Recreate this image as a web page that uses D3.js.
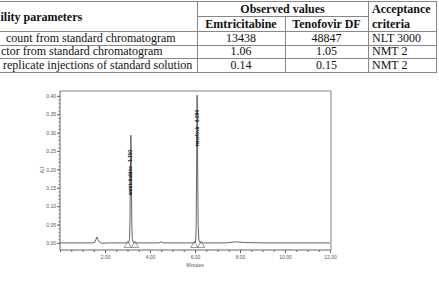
<!DOCTYPE html>
<html>
<head>
<meta charset="utf-8">
<script src="https://cdn.jsdelivr.net/npm/d3@7"></script>
<style>
  html, body { margin: 0; padding: 0; background: #fff; }
  svg { display: block; }
</style>
</head>
<body>
<div id="chart"></div>
<script>
// table data (the left column is cropped in the source picture)
const paramHeader = 'ility parameters';
const groupHeader = 'Observed values';
const drugs = ['Emtricitabine', 'Tenofovir DF'];
const criteriaHeader = ['Acceptance', 'criteria'];
const rowLabels = [
  'count from standard chromatogram',
  'ctor from standard chromatogram',
  'replicate injections of standard solution'
];
const rowLabelX = [6, 1, 3];
const emtValues = ['13438', '1.06', '0.14'];
const tdfValues = ['48847', '1.05', '0.15'];
const criteria = ['NLT 3000', 'NMT 2', 'NMT 2'];

// chromatogram trace (minutes, AU)
const traceTime = [0, 1.45, 1.55, 1.60, 1.64, 1.68, 1.74, 1.82, 1.90, 2.10,
  3.00, 3.06, 3.09, 3.11, 3.13, 3.15, 3.17, 3.19, 3.21, 3.25, 3.35,
  4.40, 4.49, 4.58,
  5.95, 6.02, 6.05, 6.07, 6.094, 6.12, 6.14, 6.17, 6.22, 6.35,
  7.40, 7.80, 8.20, 9.00, 12.00];
const traceAU = [0, 0, 0.002, 0.010, 0.016, 0.010, 0.003, 0.000, -0.001, 0,
  0, 0.001, 0.010, 0.060, 0.200, 0.293, 0.190, 0.060, 0.012, 0.002, 0,
  0, 0.003, 0,
  0, 0.002, 0.030, 0.180, 0.402, 0.200, 0.050, 0.008, 0.001, 0,
  0, 0.003, 0.001, 0, 0];
const peakNames = ['emtricitabine - 3.150', 'tenofovir - 6.094'];
const peakTimes = [3.15, 6.094];
const peakHeights = [0.293, 0.402];
const peakBounds = [3.01, 3.33, 5.97, 6.27];
const yTicks = [0, 0.05, 0.10, 0.15, 0.20, 0.25, 0.30, 0.35, 0.40];
const xTicks = [2, 4, 6, 8, 10, 12];

const W = 439, H = 281;
const svg = d3.select('#chart').append('svg').attr('width', W).attr('height', H);

// ---------- table ----------
const tbl = svg.append('g')
  .attr('font-family', '"Liberation Serif", "Times New Roman", serif')
  .attr('font-size', 12).attr('fill', '#111');
const colX = [0, 197, 285, 368, 436];
const rowY = d3.scaleLinear().domain([0, 3]).range([31, 72]);
const lineC = '#888';

const hline = (x1, x2, y) => tbl.append('line').attr('x1', x1).attr('x2', x2)
  .attr('y1', y).attr('y2', y).attr('stroke', lineC).attr('stroke-width', 1);
const vline = (x, y1, y2) => tbl.append('line').attr('x1', x).attr('x2', x)
  .attr('y1', y1).attr('y2', y2).attr('stroke', lineC).attr('stroke-width', 1);

hline(colX[0], colX[4] + 1, 1.5);
hline(colX[1], colX[3], 16.5);
[0, 1, 2, 3].forEach(i => hline(colX[0], colX[4] + 1, Math.round(rowY(i)) + 0.5));
vline(colX[1] + 0.5, 1.5, 72.5);
vline(colX[2] + 0.5, 16.5, 72.5);
vline(colX[3] + 0.5, 1.5, 72.5);
vline(colX[4] + 0.5, 1.5, 72.5);

tbl.append('text').attr('x', 0.5).attr('y', 21).attr('font-weight', 'bold').text(paramHeader);
tbl.append('text').attr('x', (colX[1] + colX[3]) / 2).attr('y', 13)
  .attr('text-anchor', 'middle').attr('font-weight', 'bold').text(groupHeader);
drugs.forEach((d, i) => {
  tbl.append('text').attr('x', (colX[i + 1] + colX[i + 2]) / 2).attr('y', 28)
    .attr('text-anchor', 'middle').attr('font-weight', 'bold').text(d);
});
criteriaHeader.forEach((t, i) => {
  tbl.append('text').attr('x', colX[3] + 4).attr('y', 13 + i * 15)
    .attr('font-weight', 'bold').text(t);
});
rowLabels.forEach((t, i) => {
  const yb = rowY(i + 1) - 3;
  tbl.append('text').attr('x', rowLabelX[i]).attr('y', yb).text(t);
  tbl.append('text').attr('x', (colX[1] + colX[2]) / 2).attr('y', yb)
    .attr('text-anchor', 'middle').text(emtValues[i]);
  tbl.append('text').attr('x', (colX[2] + colX[3]) / 2).attr('y', yb)
    .attr('text-anchor', 'middle').text(tdfValues[i]);
  tbl.append('text').attr('x', colX[3] + 4).attr('y', yb).text(criteria[i]);
});

// ---------- chromatogram ----------
const x = d3.scaleLinear().domain([0, 12]).range([60, 330]);
const y = d3.scaleLinear().domain([-0.0193, 0.4133]).range([250, 91]);
const g = svg.append('g').attr('font-family', '"Liberation Sans", Arial, sans-serif');

// frame (top and right)
g.append('path')
  .attr('d', `M${x(0)},${y.range()[1]}H${x(12) + 1}V${y.range()[0]}`)
  .attr('fill', 'none').attr('stroke', '#aaa').attr('stroke-width', 1.5);

// y axis
const yMinor = d3.range(0, 41).map(v => v / 100);
g.append('g').attr('transform', `translate(${x(0)},0)`)
  .call(d3.axisLeft(y).tickValues(yMinor).tickSize(1.5).tickFormat(''))
  .call(a => a.select('.domain').remove())
  .selectAll('line').attr('stroke', '#777');
const ya = g.append('g').attr('transform', `translate(${x(0)},0)`)
  .call(d3.axisLeft(y).tickValues(yTicks).tickSize(3).tickPadding(1).tickFormat(d3.format('.2f')));
ya.select('.domain').attr('d', `M0,${y.range()[1]}V${y.range()[0]}`).attr('stroke', '#666');
ya.selectAll('line').attr('stroke', '#666');
ya.selectAll('text').attr('font-size', 5).attr('fill', '#555').attr('font-family', null);

// x axis
const xMinor = d3.range(0, 25).map(v => v / 2);
g.append('g').attr('transform', `translate(0,${y.range()[0]})`)
  .call(d3.axisBottom(x).tickValues(xMinor).tickSize(2).tickFormat(''))
  .call(a => a.select('.domain').remove())
  .selectAll('line').attr('stroke', '#666');
const xa = g.append('g').attr('transform', `translate(0,${y.range()[0]})`)
  .call(d3.axisBottom(x).tickValues(xTicks).tickSize(3).tickPadding(2).tickFormat(d3.format('.2f')));
xa.select('.domain').attr('d', `M${x(0)},0H${x(12)}`).attr('stroke', '#666');
xa.selectAll('line').attr('stroke', '#666');
xa.selectAll('text').attr('font-size', 5).attr('fill', '#555').attr('font-family', null);

g.append('text').attr('transform', `translate(44,170) rotate(-90)`)
  .attr('text-anchor', 'middle').attr('font-size', 5).attr('fill', '#555').text('AU');
g.append('text').attr('x', x(6)).attr('y', 267)
  .attr('text-anchor', 'middle').attr('font-size', 5).attr('fill', '#555').text('Minutes');

// trace
const pts = traceTime.map((t, i) => [t, traceAU[i]]);
g.append('path').datum(pts)
  .attr('d', d3.line().x(d => x(d[0])).y(d => y(d[1])))
  .attr('fill', 'none').attr('stroke', '#555').attr('stroke-width', 0.9);

// peak boundary markers
g.selectAll('.mark').data(peakBounds).join('path')
  .attr('class', 'mark')
  .attr('transform', d => `translate(${x(d)},${y(0) + 2.5})`)
  .attr('d', d3.symbol(d3.symbolTriangle, 22))
  .attr('fill', 'none').attr('stroke', '#555').attr('stroke-width', 0.6);

// peak labels
peakNames.forEach((n, i) => {
  g.append('text')
    .attr('transform', `translate(${x(peakTimes[i]) + 1.5},${y(peakHeights[i]) + 15}) rotate(-90)`)
    .attr('text-anchor', 'end').attr('font-size', 4.7).attr('font-weight', 'bold')
    .attr('fill', '#111').text(n);
});
</script>
</body>
</html>
